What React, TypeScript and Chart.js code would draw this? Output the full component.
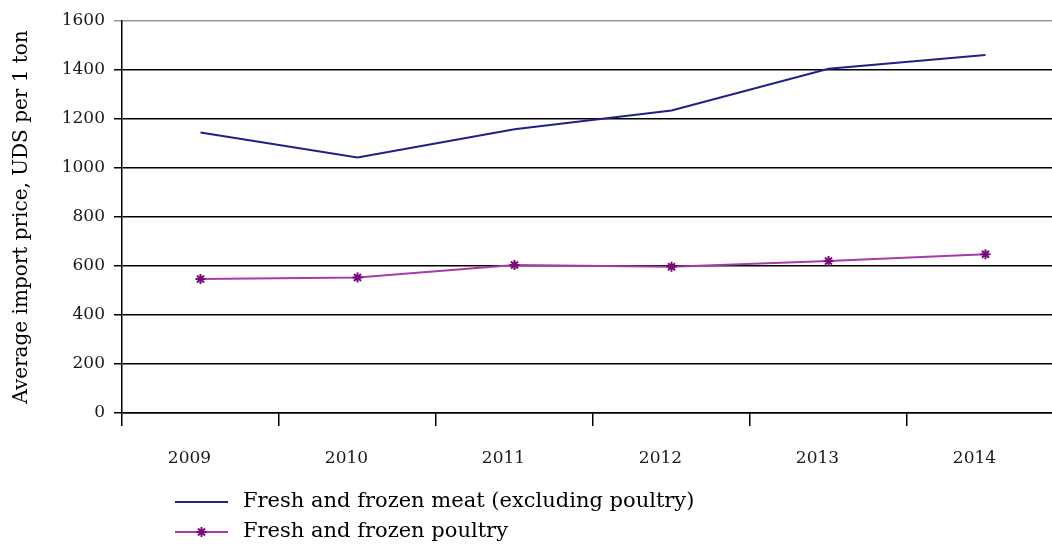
import React, { useEffect, useRef } from "react";
import { Chart, registerables } from "chart.js";
import { drawPoint } from "chart.js/helpers";

Chart.register(...registerables);

const years = ["2009", "2010", "2011", "2012", "2013", "2014"];
const meatPrices = [1145, 1043, 1158, 1235, 1405, 1461];
const poultryPrices = [547, 553, 604, 597, 620, 648];
const meatLabel = "Fresh and frozen meat (excluding poultry)";
const poultryLabel = "Fresh and frozen poultry";
const yAxisTitle = "Average import price, UDS per 1 ton";
const yMin = 0;
const yMax = 1600;
const yStep = 200;

const FONT = "'DejaVu Serif', 'Liberation Serif', serif";

const stackedLegend = {
  id: "stackedLegend",
  afterDraw(chart: any) {
    const ctx = chart.ctx as CanvasRenderingContext2D;
    const left = 175;
    const lineLen = 53;
    const textX = 243;
    const top = 502;
    const rowH = 30;
    ctx.save();
    chart.data.datasets.forEach((ds: any, i: number) => {
      const y = top + i * rowH;
      ctx.strokeStyle = ds.borderColor;
      ctx.lineWidth = ds.borderWidth;
      ctx.beginPath();
      ctx.moveTo(left, y);
      ctx.lineTo(left + lineLen, y);
      ctx.stroke();
      if (ds.pointRadius > 0) {
        ctx.strokeStyle = ds.pointBorderColor;
        ctx.fillStyle = ds.pointBackgroundColor;
        ctx.lineWidth = ds.pointBorderWidth;
        drawPoint(
          ctx,
          { pointStyle: ds.pointStyle, rotation: 0, radius: ds.pointRadius, borderWidth: ds.pointBorderWidth } as any,
          left + lineLen / 2,
          y
        );
      }
      ctx.fillStyle = "#000";
      ctx.font = `21px ${FONT}`;
      ctx.textBaseline = "middle";
      ctx.textAlign = "left";
      ctx.fillText(ds.label, textX, y);
    });
    ctx.restore();
  },
};

export default function App() {
  const ref = useRef<HTMLCanvasElement | null>(null);

  useEffect(() => {
    if (!ref.current) return;
    const chart = new Chart(ref.current, {
      type: "line",
      data: {
        labels: years,
        datasets: [
          {
            label: meatLabel,
            data: meatPrices,
            borderColor: "#20208a",
            backgroundColor: "#20208a",
            borderWidth: 2,
            pointRadius: 0,
            pointHoverRadius: 0,
            tension: 0,
          },
          {
            label: poultryLabel,
            data: poultryPrices,
            borderColor: "#a63aa6",
            backgroundColor: "#a63aa6",
            borderWidth: 2,
            pointStyle: "star",
            pointRadius: 5,
            pointBorderWidth: 2,
            pointBorderColor: "#7a0a7a",
            pointBackgroundColor: "#7a0a7a",
            tension: 0,
          },
        ],
      },
      options: {
        animation: false,
        responsive: false,
        devicePixelRatio: 1,
        layout: { padding: { left: 0, right: 16, top: 21, bottom: 0 } },
        plugins: {
          legend: { display: false },
          tooltip: { enabled: false },
        },
        scales: {
          x: {
            offset: true,
            grid: {
              offset: true,
              drawOnChartArea: false,
              drawTicks: true,
              tickLength: 13,
              color: "#000",
              lineWidth: 1.5,
            },
            border: { color: "#000", width: 1.5 },
            ticks: {
              color: "#1a1a1a",
              font: { family: FONT, size: 17 },
              padding: 22,
              labelOffset: -11,
              maxRotation: 0,
            },
            afterFit: (scale: any) => {
              scale.height = 133;
            },
          },
          y: {
            min: yMin,
            max: yMax,
            ticks: {
              stepSize: yStep,
              color: "#1a1a1a",
              font: { family: FONT, size: 17 },
              padding: 9,
              callback: (v: any) => String(v),
            },
            grid: {
              color: (c: any) => (c.tick && c.tick.value === yMax ? "#999" : "#000"),
              lineWidth: 1.5,
              tickLength: 8,
            },
            border: { color: "#000", width: 1.5 },
            title: {
              display: true,
              text: yAxisTitle,
              color: "#000",
              font: { family: FONT, size: 20 },
              padding: { top: 10, bottom: 0 },
            },
            afterFit: (scale: any) => {
              scale.width = 122;
            },
          },
        },
      },
      plugins: [stackedLegend],
    });
    return () => chart.destroy();
  }, []);

  return (
    <div
      style={{
        position: "fixed",
        left: 0,
        top: 0,
        width: 1052,
        height: 546,
        overflow: "hidden",
        background: "#fff",
      }}
    >
      <canvas ref={ref} width={1080} height={546} style={{ width: 1080, height: 546, display: "block" }} />
    </div>
  );
}
